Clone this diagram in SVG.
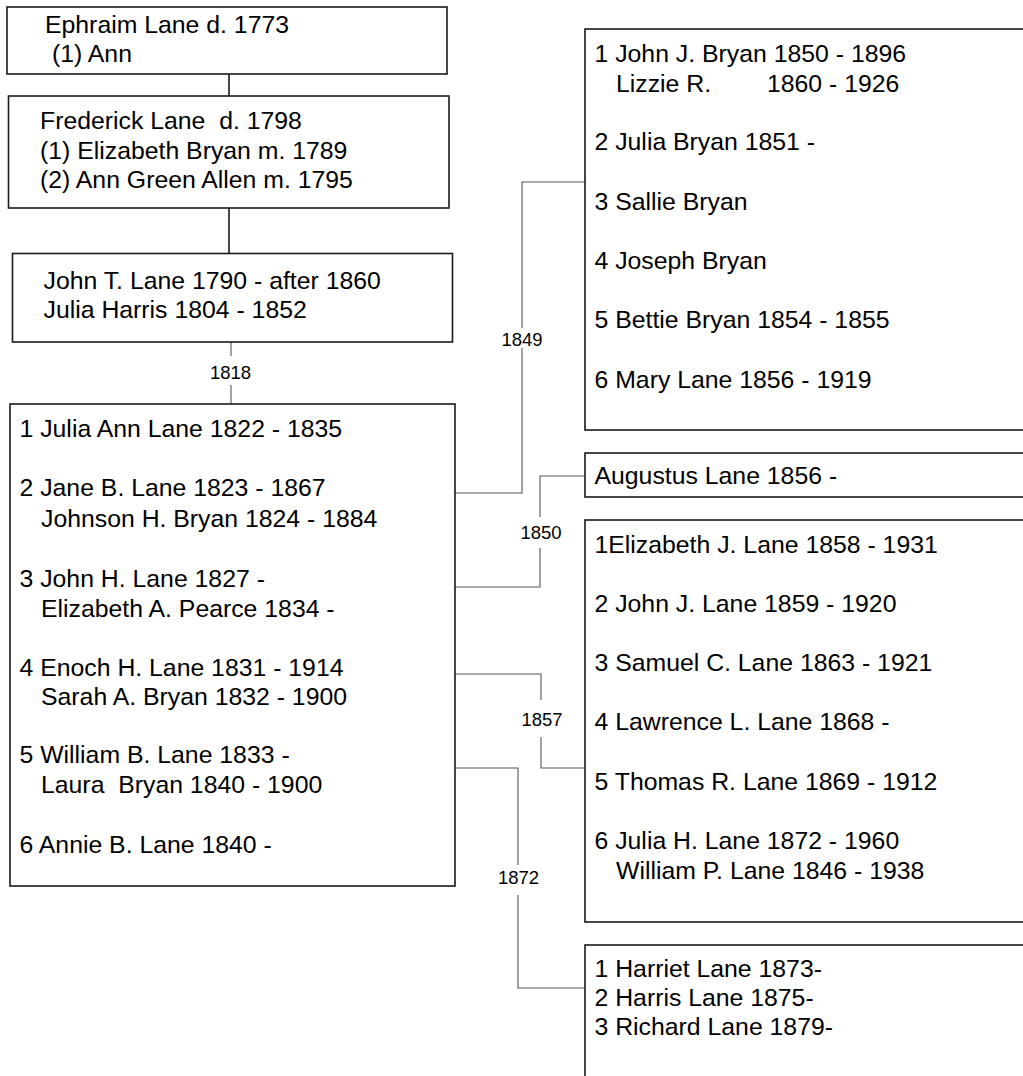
<svg xmlns="http://www.w3.org/2000/svg" width="1023" height="1076" viewBox="0 0 1023 1076">
<style>
.box{fill:#fff;stroke:#1a1a1a;stroke-width:1.6}
.t{font-family:"Liberation Sans",Arial,sans-serif;font-size:24.8px;fill:#000;white-space:pre}
.lbl{font-family:"Liberation Sans",Arial,sans-serif;font-size:18.5px;fill:#000;text-anchor:middle}
.c{fill:none;stroke:#555;stroke-width:1.1}
.cb{fill:none;stroke:#1a1a1a;stroke-width:1.6}
.bg{fill:#fff}
</style>
<rect width="1023" height="1076" fill="#fff"/>
<g id="connectors">
<path class="cb" d="M229,74V96"/>
<path class="cb" d="M229,208V253"/>
<path class="c" d="M231,342V404"/>
<path class="c" d="M455,493H522V182H588"/>
<path class="c" d="M452,587H540V476H585"/>
<path class="c" d="M455,674H541V768H585"/>
<path class="c" d="M455,768H518V988H585"/>
<rect class="bg" x="208" y="356" width="46" height="29"/>
<rect class="bg" x="499" y="328" width="46" height="20"/>
<rect class="bg" x="518" y="517" width="46" height="31"/>
<rect class="bg" x="519" y="700" width="46" height="37"/>
<rect class="bg" x="496" y="865" width="46" height="30"/>
<text class="lbl" x="230.5" y="379">1818</text>
<text class="lbl" x="522" y="345.5">1849</text>
<text class="lbl" x="541" y="538.5">1850</text>
<text class="lbl" x="542" y="725.5">1857</text>
<text class="lbl" x="518.5" y="884">1872</text>
</g>
<g id="ephraim">
<rect class="box" x="7" y="7" width="440" height="67"/>
<text class="t" x="45" y="33">Ephraim Lane d. 1773</text>
<text class="t" x="52" y="62">(1) Ann</text>
</g>
<g id="frederick">
<rect class="box" x="8.5" y="96" width="440.5" height="112"/>
<text class="t" x="40" y="129" xml:space="preserve">Frederick Lane  d. 1798</text>
<text class="t" x="40" y="159">(1) Elizabeth Bryan m. 1789</text>
<text class="t" x="40" y="188">(2) Ann Green Allen m. 1795</text>
</g>
<g id="johnT">
<rect class="box" x="12.5" y="253.5" width="440" height="88.5"/>
<text class="t" x="43.5" y="289">John T. Lane 1790 - after 1860</text>
<text class="t" x="43.5" y="318">Julia Harris 1804 - 1852</text>
</g>
<g id="children">
<rect class="box" x="10" y="404" width="445" height="482"/>
<text class="t" x="19.5" y="437">1 Julia Ann Lane 1822 - 1835</text>
<text class="t" x="19.5" y="496">2 Jane B. Lane 1823 - 1867</text>
<text class="t" x="41" y="527">Johnson H. Bryan 1824 - 1884</text>
<text class="t" x="19.5" y="587">3 John H. Lane 1827 -</text>
<text class="t" x="41" y="617">Elizabeth A. Pearce 1834 -</text>
<text class="t" x="19.5" y="676">4 Enoch H. Lane 1831 - 1914</text>
<text class="t" x="41" y="705">Sarah A. Bryan 1832 - 1900</text>
<text class="t" x="19.5" y="763">5 William B. Lane 1833 -</text>
<text class="t" x="41" y="793" xml:space="preserve">Laura  Bryan 1840 - 1900</text>
<text class="t" x="19.5" y="853">6 Annie B. Lane 1840 -</text>
</g>
<g id="bryan-children">
<rect class="box" x="585" y="29" width="460" height="401"/>
<text class="t" x="594.5" y="62">1 John J. Bryan 1850 - 1896</text>
<text class="t" x="616" y="92">Lizzie R.<tspan x="767">1860 - 1926</tspan></text>
<text class="t" x="594.5" y="150">2 Julia Bryan 1851 -</text>
<text class="t" x="594.5" y="210">3 Sallie Bryan</text>
<text class="t" x="594.5" y="269">4 Joseph Bryan</text>
<text class="t" x="594.5" y="328">5 Bettie Bryan 1854 - 1855</text>
<text class="t" x="594.5" y="388">6 Mary Lane 1856 - 1919</text>
</g>
<g id="augustus">
<rect class="box" x="585" y="453" width="460" height="44"/>
<text class="t" x="594.5" y="484">Augustus Lane 1856 -</text>
</g>
<g id="enoch-children">
<rect class="box" x="585" y="520" width="460" height="402"/>
<text class="t" x="594.5" y="553">1Elizabeth J. Lane 1858 - 1931</text>
<text class="t" x="594.5" y="612">2 John J. Lane 1859 - 1920</text>
<text class="t" x="594.5" y="671">3 Samuel C. Lane 1863 - 1921</text>
<text class="t" x="594.5" y="730">4 Lawrence L. Lane 1868 -</text>
<text class="t" x="594.5" y="790">5 Thomas R. Lane 1869 - 1912</text>
<text class="t" x="594.5" y="849">6 Julia H. Lane 1872 - 1960</text>
<text class="t" x="616" y="879">William P. Lane 1846 - 1938</text>
</g>
<g id="william-children">
<rect class="box" x="585" y="945" width="460" height="200"/>
<text class="t" x="594.5" y="977">1 Harriet Lane 1873-</text>
<text class="t" x="594.5" y="1006">2 Harris Lane 1875-</text>
<text class="t" x="594.5" y="1035">3 Richard Lane 1879-</text>
</g>
</svg>
